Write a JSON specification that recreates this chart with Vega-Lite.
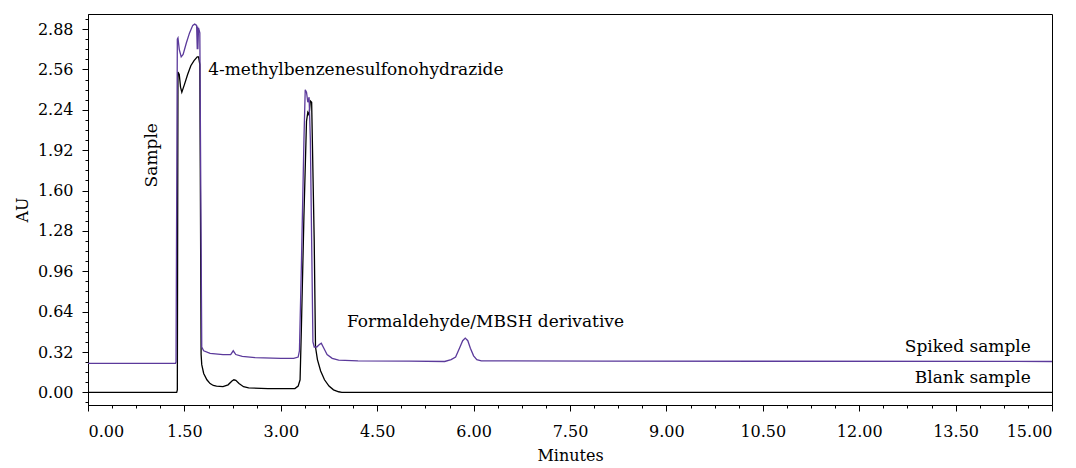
{
  "$schema": "https://vega.github.io/schema/vega-lite/v6.json",
  "width": 964,
  "height": 391,
  "autosize": {"type": "none"},
  "padding": {"left": 88, "top": 14, "right": 24, "bottom": 63},
  "background": "white",
  "config": {
    "view": {"stroke": "black", "strokeWidth": 1},
    "font": "DejaVu Serif"
  },
  "datasets": {
    "curves": [
      {"t": 0, "au": 0, "s": "Blank"},
      {"t": 1.38, "au": 0, "s": "Blank"},
      {"t": 1.39, "au": 0.02, "s": "Blank"},
      {"t": 1.40, "au": 2.54, "s": "Blank"},
      {"t": 1.42, "au": 2.52, "s": "Blank"},
      {"t": 1.44, "au": 2.42, "s": "Blank"},
      {"t": 1.46, "au": 2.38, "s": "Blank"},
      {"t": 1.50, "au": 2.44, "s": "Blank"},
      {"t": 1.55, "au": 2.52, "s": "Blank"},
      {"t": 1.60, "au": 2.59, "s": "Blank"},
      {"t": 1.65, "au": 2.63, "s": "Blank"},
      {"t": 1.70, "au": 2.66, "s": "Blank"},
      {"t": 1.72, "au": 2.66, "s": "Blank"},
      {"t": 1.74, "au": 2.60, "s": "Blank"},
      {"t": 1.76, "au": 0.30, "s": "Blank"},
      {"t": 1.77, "au": 0.22, "s": "Blank"},
      {"t": 1.80, "au": 0.15, "s": "Blank"},
      {"t": 1.85, "au": 0.10, "s": "Blank"},
      {"t": 1.90, "au": 0.07, "s": "Blank"},
      {"t": 1.95, "au": 0.055, "s": "Blank"},
      {"t": 2.00, "au": 0.05, "s": "Blank"},
      {"t": 2.10, "au": 0.045, "s": "Blank"},
      {"t": 2.18, "au": 0.06, "s": "Blank"},
      {"t": 2.24, "au": 0.09, "s": "Blank"},
      {"t": 2.27, "au": 0.10, "s": "Blank"},
      {"t": 2.30, "au": 0.095, "s": "Blank"},
      {"t": 2.35, "au": 0.07, "s": "Blank"},
      {"t": 2.42, "au": 0.045, "s": "Blank"},
      {"t": 2.50, "au": 0.035, "s": "Blank"},
      {"t": 2.80, "au": 0.03, "s": "Blank"},
      {"t": 3.10, "au": 0.03, "s": "Blank"},
      {"t": 3.22, "au": 0.03, "s": "Blank"},
      {"t": 3.27, "au": 0.05, "s": "Blank"},
      {"t": 3.30, "au": 0.10, "s": "Blank"},
      {"t": 3.32, "au": 0.5, "s": "Blank"},
      {"t": 3.36, "au": 1.4, "s": "Blank"},
      {"t": 3.40, "au": 2.15, "s": "Blank"},
      {"t": 3.42, "au": 2.22, "s": "Blank"},
      {"t": 3.44, "au": 2.20, "s": "Blank"},
      {"t": 3.46, "au": 2.31, "s": "Blank"},
      {"t": 3.48, "au": 2.30, "s": "Blank"},
      {"t": 3.52, "au": 1.2, "s": "Blank"},
      {"t": 3.54, "au": 0.36, "s": "Blank"},
      {"t": 3.57, "au": 0.26, "s": "Blank"},
      {"t": 3.62, "au": 0.17, "s": "Blank"},
      {"t": 3.68, "au": 0.10, "s": "Blank"},
      {"t": 3.75, "au": 0.05, "s": "Blank"},
      {"t": 3.82, "au": 0.02, "s": "Blank"},
      {"t": 3.90, "au": 0.005, "s": "Blank"},
      {"t": 3.95, "au": 0, "s": "Blank"},
      {"t": 15, "au": 0, "s": "Blank"},
      {"t": 0, "au": 0.23, "s": "Spiked"},
      {"t": 1.36, "au": 0.23, "s": "Spiked"},
      {"t": 1.37, "au": 0.24, "s": "Spiked"},
      {"t": 1.39, "au": 2.80, "s": "Spiked"},
      {"t": 1.40, "au": 2.81, "s": "Spiked"},
      {"t": 1.42, "au": 2.72, "s": "Spiked"},
      {"t": 1.45, "au": 2.66, "s": "Spiked"},
      {"t": 1.48, "au": 2.68, "s": "Spiked"},
      {"t": 1.53, "au": 2.77, "s": "Spiked"},
      {"t": 1.58, "au": 2.85, "s": "Spiked"},
      {"t": 1.63, "au": 2.91, "s": "Spiked"},
      {"t": 1.66, "au": 2.92, "s": "Spiked"},
      {"t": 1.69, "au": 2.91, "s": "Spiked"},
      {"t": 1.70, "au": 2.72, "s": "Spiked"},
      {"t": 1.705, "au": 2.90, "s": "Spiked"},
      {"t": 1.71, "au": 2.72, "s": "Spiked"},
      {"t": 1.72, "au": 2.89, "s": "Spiked"},
      {"t": 1.74, "au": 2.85, "s": "Spiked"},
      {"t": 1.77, "au": 0.36, "s": "Spiked"},
      {"t": 1.80, "au": 0.33, "s": "Spiked"},
      {"t": 1.90, "au": 0.31, "s": "Spiked"},
      {"t": 2.10, "au": 0.30, "s": "Spiked"},
      {"t": 2.22, "au": 0.30, "s": "Spiked"},
      {"t": 2.26, "au": 0.33, "s": "Spiked"},
      {"t": 2.30, "au": 0.30, "s": "Spiked"},
      {"t": 2.40, "au": 0.285, "s": "Spiked"},
      {"t": 2.60, "au": 0.275, "s": "Spiked"},
      {"t": 3.00, "au": 0.27, "s": "Spiked"},
      {"t": 3.20, "au": 0.27, "s": "Spiked"},
      {"t": 3.27, "au": 0.28, "s": "Spiked"},
      {"t": 3.29, "au": 0.33, "s": "Spiked"},
      {"t": 3.32, "au": 1.0, "s": "Spiked"},
      {"t": 3.36, "au": 2.0, "s": "Spiked"},
      {"t": 3.38, "au": 2.40, "s": "Spiked"},
      {"t": 3.40, "au": 2.38, "s": "Spiked"},
      {"t": 3.42, "au": 2.30, "s": "Spiked"},
      {"t": 3.44, "au": 2.34, "s": "Spiked"},
      {"t": 3.46, "au": 2.0, "s": "Spiked"},
      {"t": 3.50, "au": 0.40, "s": "Spiked"},
      {"t": 3.52, "au": 0.36, "s": "Spiked"},
      {"t": 3.56, "au": 0.36, "s": "Spiked"},
      {"t": 3.60, "au": 0.38, "s": "Spiked"},
      {"t": 3.63, "au": 0.39, "s": "Spiked"},
      {"t": 3.67, "au": 0.35, "s": "Spiked"},
      {"t": 3.72, "au": 0.30, "s": "Spiked"},
      {"t": 3.80, "au": 0.27, "s": "Spiked"},
      {"t": 3.90, "au": 0.255, "s": "Spiked"},
      {"t": 4.20, "au": 0.25, "s": "Spiked"},
      {"t": 5.00, "au": 0.248, "s": "Spiked"},
      {"t": 5.55, "au": 0.245, "s": "Spiked"},
      {"t": 5.65, "au": 0.26, "s": "Spiked"},
      {"t": 5.72, "au": 0.28, "s": "Spiked"},
      {"t": 5.78, "au": 0.35, "s": "Spiked"},
      {"t": 5.83, "au": 0.41, "s": "Spiked"},
      {"t": 5.87, "au": 0.43, "s": "Spiked"},
      {"t": 5.91, "au": 0.41, "s": "Spiked"},
      {"t": 5.95, "au": 0.35, "s": "Spiked"},
      {"t": 6.00, "au": 0.29, "s": "Spiked"},
      {"t": 6.05, "au": 0.26, "s": "Spiked"},
      {"t": 6.12, "au": 0.25, "s": "Spiked"},
      {"t": 8.00, "au": 0.248, "s": "Spiked"},
      {"t": 15, "au": 0.245, "s": "Spiked"}
    ],
    "leftlabels": [
      {"t": 1.87, "au": 2.555, "txt": "4-methylbenzenesulfonohydrazide"},
      {"t": 4.03, "au": 0.555, "txt": "Formaldehyde/MBSH derivative"}
    ],
    "rightlabels": [
      {"t": 14.67, "au": 0.357, "txt": "Spiked sample"},
      {"t": 14.67, "au": 0.111, "txt": "Blank sample"}
    ],
    "vlabels": [
      {"t": 1.0, "au": 1.88, "txt": "Sample"}
    ]
  },
  "encoding": {
    "x": {
      "field": "t", "type": "quantitative",
      "scale": {"domain": [0, 15], "nice": false, "zero": false},
      "axis": {
        "title": "Minutes",
        "titleFont": "DejaVu Serif", "titleFontSize": 16, "titleFontWeight": "normal", "titleColor": "black",
        "titlePadding": 8,
        "values": [0,0.375,0.75,1.125,1.5,1.875,2.25,2.625,3,3.375,3.75,4.125,4.5,4.875,5.25,5.625,6,6.375,6.75,7.125,7.5,7.875,8.25,8.625,9,9.375,9.75,10.125,10.5,10.875,11.25,11.625,12,12.375,12.75,13.125,13.5,13.875,14.25,14.625,15],
        "labelExpr": "abs(datum.value/1.5 - round(datum.value/1.5)) < 0.001 ? format(datum.value, '.2f') : ''",
        "labelOverlap": false,
        "labelFont": "DejaVu Serif", "labelFontSize": 16, "labelColor": "black",
        "labelPadding": 12,
        "tickColor": "black", "domainColor": "black",
        "tickSize": {"condition": {"test": "abs(datum.value/1.5 - round(datum.value/1.5)) < 0.001", "value": 6}, "value": 3},
        "grid": false
      }
    },
    "y": {
      "field": "au", "type": "quantitative",
      "scale": {"domain": [-0.1, 3.0], "nice": false, "zero": false},
      "axis": {
        "title": "AU",
        "titleFont": "DejaVu Serif", "titleFontSize": 16, "titleFontWeight": "normal", "titleColor": "black",
        "titlePadding": 7,
        "values": [-0.08,0,0.08,0.16,0.24,0.32,0.4,0.48,0.56,0.64,0.72,0.8,0.88,0.96,1.04,1.12,1.2,1.28,1.36,1.44,1.52,1.6,1.68,1.76,1.84,1.92,2.0,2.08,2.16,2.24,2.32,2.4,2.48,2.56,2.64,2.72,2.8,2.88,2.96],
        "labelExpr": "abs(datum.value/0.32 - round(datum.value/0.32)) < 0.001 ? format(datum.value, '.2f') : ''",
        "labelOverlap": false,
        "labelFont": "DejaVu Serif", "labelFontSize": 16, "labelColor": "black",
        "labelPadding": 9,
        "tickColor": "black", "domainColor": "black",
        "tickSize": {"condition": {"test": "abs(datum.value/0.32 - round(datum.value/0.32)) < 0.001", "value": 6}, "value": 3},
        "grid": false
      }
    }
  },
  "layer": [
    {
      "data": {"name": "curves"},
      "mark": {"type": "line", "strokeWidth": 1.3, "interpolate": "linear"},
      "encoding": {
        "detail": {"field": "s"},
        "color": {"field": "s", "type": "nominal", "scale": {"domain": ["Blank", "Spiked"], "range": ["#000000", "#5b3a9b"]}, "legend": null},
        "order": {"field": "t", "type": "quantitative"}
      }
    },
    {
      "data": {"name": "leftlabels"},
      "mark": {"type": "text", "font": "DejaVu Serif", "fontSize": 17, "color": "black", "baseline": "middle", "align": "left"},
      "encoding": {"text": {"field": "txt"}}
    },
    {
      "data": {"name": "rightlabels"},
      "mark": {"type": "text", "font": "DejaVu Serif", "fontSize": 17, "color": "black", "baseline": "middle", "align": "right"},
      "encoding": {"text": {"field": "txt"}}
    },
    {
      "data": {"name": "vlabels"},
      "mark": {"type": "text", "font": "DejaVu Serif", "fontSize": 17, "color": "black", "baseline": "middle", "align": "center", "angle": 270},
      "encoding": {"text": {"field": "txt"}}
    }
  ]
}
